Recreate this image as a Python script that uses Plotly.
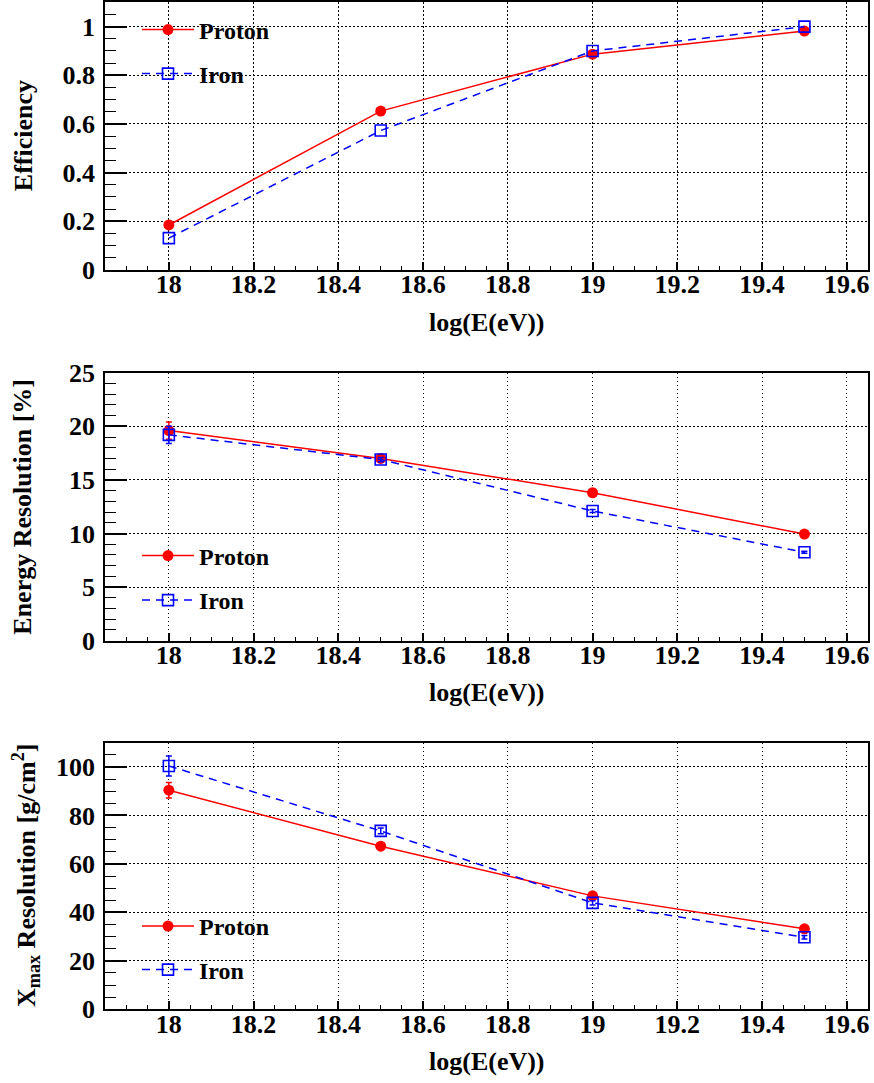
import plotly.graph_objects as go

# ---------------- data ----------------
energy = [18.0, 18.5, 19.0, 19.5]

eff_proton = [0.185, 0.653, 0.887, 0.982]
eff_iron = [0.131, 0.573, 0.900, 1.000]

eres_proton = [19.6, 17.0, 13.8, 9.95]
eres_proton_err = [0.8, 0.2, 0.15, 0.1]
eres_iron = [19.2, 16.9, 12.1, 8.25]
eres_iron_err = [0.8, 0.2, 0.15, 0.1]

xres_proton = [90.4, 67.3, 46.8, 33.2]
xres_proton_err = [3.2, 1.0, 0.8, 0.6]
xres_iron = [100.4, 73.6, 43.9, 29.7]
xres_iron_err = [4.1, 1.2, 0.9, 0.7]

series_names = ["Proton", "Iron"]
x_title = "log(E(eV))"
y_titles = ["Efficiency", "Energy Resolution [%]",
            "X<sub>max</sub> Resolution [g/cm<sup>2</sup>]"]

# ---------------- layout helpers ----------------
W, H = 874, 1083
FONT = "Liberation Serif, Times New Roman, Tinos, Times, serif"
RED = "rgb(255,0,0)"
BLUE = "rgb(0,0,255)"


def fx(p):
    return p / W


def fy(p):
    return 1 - p / H


panels = [
    dict(top=2.3, bot=270.0, yrange=[0, 1.1], dtick=0.2, minor=0.05,
         p=eff_proton, i=eff_iron, pe=None, ie=None,
         leg=(30, 74)),
    dict(top=372.7, bot=640.7, yrange=[0, 25], dtick=5, minor=1,
         p=eres_proton, i=eres_iron, pe=eres_proton_err, ie=eres_iron_err,
         leg=(556, 600.5)),
    dict(top=742.7, bot=1009.3, yrange=[0, 110], dtick=20, minor=5,
         p=xres_proton, i=xres_iron, pe=xres_proton_err, ie=xres_iron_err,
         leg=(926.5, 970)),
]

X0, X1 = 105.3, 868.0
tickfont = dict(family=FONT, size=26, color="black", weight="bold")

fig = go.Figure()
layout = dict(
    width=W, height=H,
    margin=dict(l=0, r=0, t=0, b=0),
    paper_bgcolor="white", plot_bgcolor="white",
    showlegend=True,
    font=dict(family=FONT, size=24, color="black"),
)
annotations = []

for k, pn in enumerate(panels):
    n = "" if k == 0 else str(k + 1)
    xa, ya = "x" + n, "y" + n
    err_p = None if pn["pe"] is None else dict(
        type="data", array=pn["pe"], visible=True, color=RED,
        thickness=1.5, width=3)
    err_i = None if pn["ie"] is None else dict(
        type="data", array=pn["ie"], visible=True, color=BLUE,
        thickness=1.5, width=3)
    leg_p = "legend" + ("" if k == 0 else str(2 * k + 1))
    leg_i = "legend" + str(2 * k + 2)
    fig.add_trace(go.Scatter(
        x=energy, y=pn["p"], xaxis=xa, yaxis=ya, name=series_names[0],
        mode="lines+markers", line=dict(color=RED, width=1.5),
        marker=dict(symbol="circle", size=11, color=RED),
        error_y=err_p, legend=leg_p, cliponaxis=False))
    fig.add_trace(go.Scatter(
        x=energy, y=pn["i"], xaxis=xa, yaxis=ya, name=series_names[1],
        mode="lines+markers", line=dict(color=BLUE, width=1.5, dash="8px,6px"),
        marker=dict(symbol="square-open", size=11, color=BLUE,
                    line=dict(width=1.6, color=BLUE)),
        error_y=err_i, legend=leg_i, cliponaxis=False))

    layout["xaxis" + n] = dict(
        domain=[fx(X0), fx(X1)], anchor=ya, range=[17.85, 19.65],
        tick0=18, dtick=0.2, ticks="inside", ticklen=8, tickwidth=1.5,
        tickcolor="black",
        minor=dict(tick0=18, dtick=0.05, ticks="inside", ticklen=4,
                   tickwidth=1.2, tickcolor="black", showgrid=False),
        showgrid=True, gridcolor="black", gridwidth=1, griddash="1.5px,2.5px",
        showline=True, linecolor="black", linewidth=2, mirror=True,
        zeroline=False, tickfont=tickfont, automargin=False,
        ticklabelstandoff=-10,
    )
    layout["yaxis" + n] = dict(
        domain=[fy(pn["bot"]), fy(pn["top"])], anchor=xa, range=pn["yrange"],
        tick0=0, dtick=pn["dtick"], ticks="inside", ticklen=22, tickwidth=1.5,
        tickcolor="black",
        minor=dict(tick0=0, dtick=pn["minor"], ticks="inside", ticklen=11,
                   tickwidth=1.2, tickcolor="black", showgrid=False),
        showgrid=True, gridcolor="black", gridwidth=1, griddash="1.5px,2.5px",
        showline=True, linecolor="black", linewidth=2, mirror=True,
        zeroline=False, tickfont=tickfont, automargin=False,
        ticklabelstandoff=3,
    )
    for name_leg, ypix in ((leg_p, pn["leg"][0]), (leg_i, pn["leg"][1])):
        layout[name_leg] = dict(
            x=fx(137), y=fy(ypix), xanchor="left", yanchor="middle",
            bgcolor="rgba(0,0,0,0)", borderwidth=0, itemwidth=52,
            font=dict(family=FONT, size=24, color="black", weight="bold"),
        )
    annotations.append(dict(
        text="<b>%s</b>" % x_title, xref="paper", yref="paper",
        x=fx((X0 + X1) / 2), y=fy(pn["bot"] + 52), xanchor="center",
        yanchor="middle", showarrow=False,
        font=dict(family=FONT, size=26, color="black")))
    annotations.append(dict(
        text="<b>%s</b>" % y_titles[k], xref="paper", yref="paper",
        x=fx(23 if k < 2 else 26), y=fy((pn["top"] + pn["bot"]) / 2),
        xanchor="center", yanchor="middle", textangle=-90, showarrow=False,
        font=dict(family=FONT, size=26, color="black")))

layout["annotations"] = annotations
fig.update_layout(**layout)
fig.write_html(
    "out.html",
    config={"displayModeBar": False},
    post_script="document.body.style.margin='0';document.body.style.padding='0';",
)
